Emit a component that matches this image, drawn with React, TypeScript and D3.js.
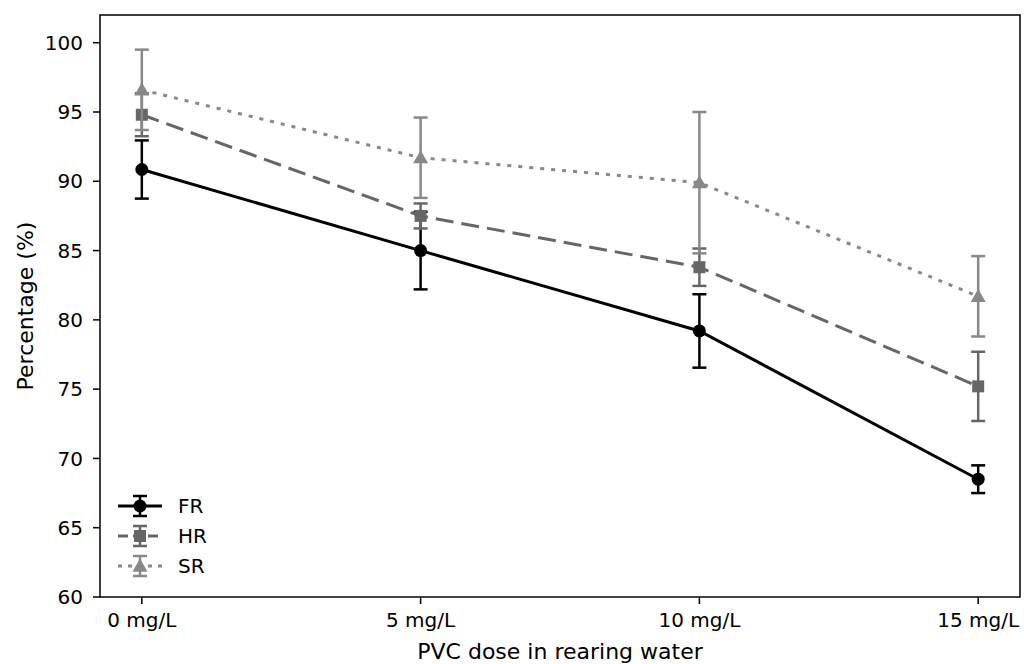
import * as d3 from 'd3'

const DOSES = ['0 mg/L', '5 mg/L', '10 mg/L', '15 mg/L']
const FR_MEAN = [90.85, 85.0, 79.2, 68.5]
const FR_ERR = [2.1, 2.8, 2.65, 1.0]
const HR_MEAN = [94.8, 87.5, 83.8, 75.2]
const HR_ERR = [1.55, 0.9, 1.35, 2.5]
const SR_MEAN = [96.6, 91.7, 89.9, 81.7]
const SR_ERR = [2.9, 2.9, 5.1, 2.9]
const Y_TICKS = [60, 65, 70, 75, 80, 85, 90, 95, 100]

const series = [
  { name: 'FR', mean: FR_MEAN, err: FR_ERR, color: '#000000', dash: '', legendDash: '', marker: 'circle' },
  { name: 'HR', mean: HR_MEAN, err: HR_ERR, color: '#666666', dash: '18,8', legendDash: '10,5', marker: 'square' },
  { name: 'SR', mean: SR_MEAN, err: SR_ERR, color: '#888888', dash: '4,7', legendDash: '4,6', marker: 'triangle' },
]

const W = 1024
const H = 664
const left = 100
const right = 1020
const top = 15
const bottom = 597
const font = 'DejaVu Sans, sans-serif'
const tickSize = 20
const labelSize = 22

function Marker({ type, x, y, color }: { type: string; x: number; y: number; color: string }) {
  if (type === 'circle') return <circle cx={x} cy={y} r={6.5} fill={color} />
  if (type === 'square') return <rect x={x - 6} y={y - 6} width={12} height={12} fill={color} />
  const s = 7.5
  return <path d={`M${x},${y - s} L${x + s},${y + s * 0.75} L${x - s},${y + s * 0.75}Z`} fill={color} />
}

export default function App() {
  const x = d3.scaleLinear().domain([-0.15, 3.15]).range([left, right])
  const y = d3.scaleLinear().domain([60, 102]).range([bottom, top])
  const line = d3.line<number>().x((_, i) => x(i)).y(d => y(d))
  const cap = 7

  return (
    <svg width={W} height={H} style={{ position: 'absolute', left: 0, top: 0, background: '#fff' }} fontFamily={font}>
      {/* series, error bars, markers */}
      {series.map(s => (
        <g key={s.name}>
          <path d={line(s.mean) ?? ''} fill="none" stroke={s.color} strokeWidth={3} strokeDasharray={s.dash || undefined} />
          {s.mean.map((m, i) => (
            <g key={i} stroke={s.color} strokeWidth={2.5}>
              <line x1={x(i)} x2={x(i)} y1={y(m - s.err[i])} y2={y(m + s.err[i])} />
              <line x1={x(i) - cap} x2={x(i) + cap} y1={y(m - s.err[i])} y2={y(m - s.err[i])} />
              <line x1={x(i) - cap} x2={x(i) + cap} y1={y(m + s.err[i])} y2={y(m + s.err[i])} />
            </g>
          ))}
          {s.mean.map((m, i) => (
            <Marker key={i} type={s.marker} x={x(i)} y={y(m)} color={s.color} />
          ))}
        </g>
      ))}

      {/* frame */}
      <rect x={left} y={top} width={right - left} height={bottom - top} fill="none" stroke="#000" strokeWidth={1.5} />

      {/* y axis */}
      {Y_TICKS.map(t => (
        <g key={t}>
          <line x1={left - 7} x2={left} y1={y(t)} y2={y(t)} stroke="#000" strokeWidth={1.5} />
          <text x={left - 17} y={y(t)} dy="0.36em" textAnchor="end" fontSize={tickSize} fill="#000">{t}</text>
        </g>
      ))}
      <text transform={`translate(33,${(top + bottom) / 2}) rotate(-90)`} textAnchor="middle" fontSize={labelSize} fill="#000">
        Percentage (%)
      </text>

      {/* x axis */}
      {DOSES.map((d, i) => (
        <g key={d}>
          <line x1={x(i)} x2={x(i)} y1={bottom} y2={bottom + 7} stroke="#000" strokeWidth={1.5} />
          <text x={x(i)} y={627} textAnchor="middle" fontSize={tickSize} fill="#000">{d}</text>
        </g>
      ))}
      <text x={(left + right) / 2} y={659} textAnchor="middle" fontSize={labelSize} fill="#000">
        PVC dose in rearing water
      </text>

      {/* legend */}
      {series.map((s, i) => {
        const ly = 506 + i * 30
        const cx = 140
        return (
          <g key={s.name}>
            <line x1={118} x2={162} y1={ly} y2={ly} stroke={s.color} strokeWidth={3} strokeDasharray={s.legendDash || undefined} />
            <g stroke={s.color} strokeWidth={2.5}>
              <line x1={cx} x2={cx} y1={ly - 10} y2={ly + 10} />
              <line x1={cx - cap} x2={cx + cap} y1={ly - 10} y2={ly - 10} />
              <line x1={cx - cap} x2={cx + cap} y1={ly + 10} y2={ly + 10} />
            </g>
            <Marker type={s.marker} x={cx} y={ly} color={s.color} />
            <text x={178} y={ly} dy="0.36em" fontSize={tickSize} fill="#000">{s.name}</text>
          </g>
        )
      })}
    </svg>
  )
}
